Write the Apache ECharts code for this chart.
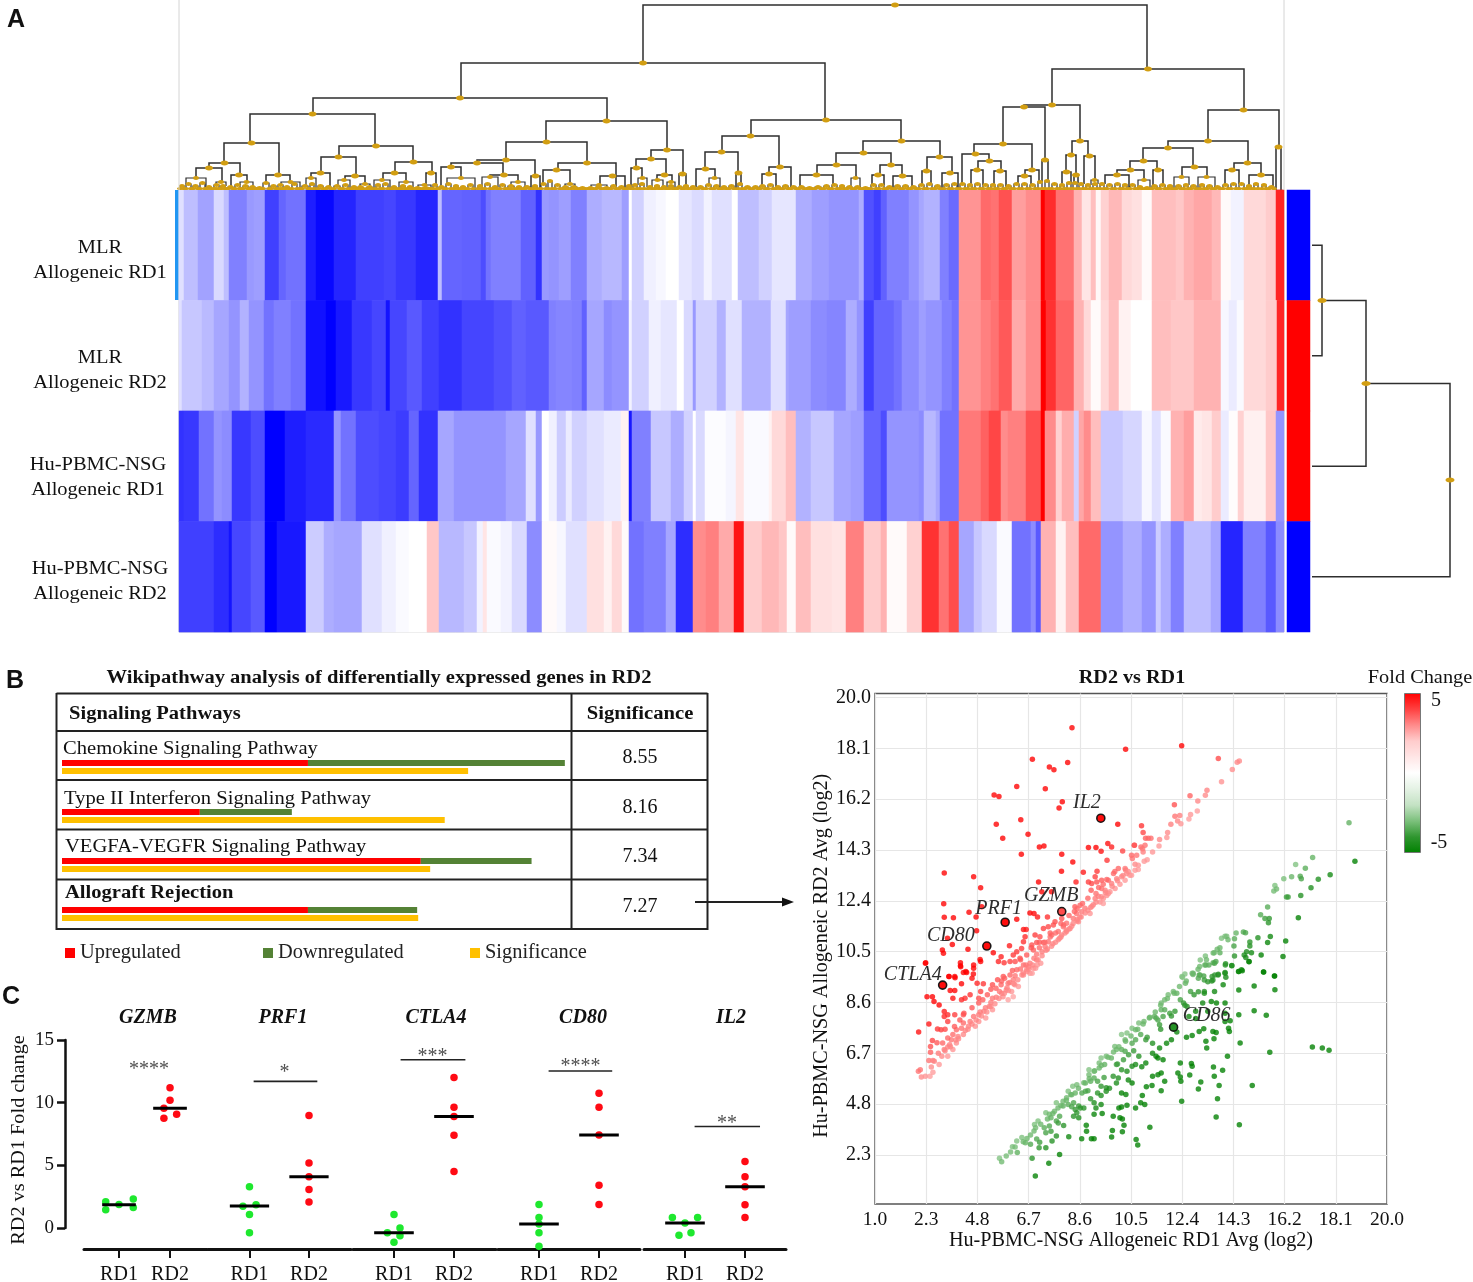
<!DOCTYPE html>
<html><head><meta charset="utf-8">
<style>html,body{margin:0;padding:0;background:#fff}#c{width:1473px;height:1282px}</style>
<script src="https://cdn.jsdelivr.net/npm/echarts@6/dist/echarts.min.js"></script>
</head><body><div id="c"></div>
<script>
// ---------- Panel A: heatmap, run-length by [last gene index, scaled expression]
const rowLabels=['MLR\nAllogeneic RD1','MLR\nAllogeneic RD2','Hu-PBMC-NSG\nAllogeneic RD1','Hu-PBMC-NSG\nAllogeneic RD2'];
const heatRow1=[[5,-.12],[19,-.25],[35,-.36],[45,-.15],[50,-.25],[68,-.5],[75,-.4],[86,-.38],[100,-.75],[107,-.6],[127,-.55],[137,-.88],[155,-.97],[177,-.85],[205,-.75],[217,-.72],[237,-.78],[259,-.85],[263,-.25],[283,-.6],[302,-.62],[307,-.7],[312,-.55],[342,-.5],[357,-.62],[363,-.8],[370,-.4],[380,-.42],[392,-.38],[408,-.5],[423,-.32],[443,-.28],[450,-.38],[453,0],[465,-.18],[477,-.06],[487,-.03],[500,0],[513,-.1],[525,-.14],[533,-.05],[553,-.12],[559,0],[580,-.25],[593,-.18],[617,-.1],[633,-.32],[650,-.38],[680,-.42],[685,-.32],[695,-.68],[702,-.75],[708,-.62],[730,-.5],[740,-.42],[745,-.35],[761,-.3],[770,-.5],[780,-.58],[802,.42],[812,.58],[820,.55],[833,.68],[847,.38],[862,.45],[866,1],[877,.82],[895,.55],[903,.3],[912,.1],[917,.25],[922,.03],[930,.18],[943,.28],[953,.15],[963,.12],[973,.02],[997,.25],[1005,.22],[1015,.3],[1033,.35],[1042,.28],[1052,.02],[1065,-.05],[1087,.15],[1097,.2],[1105,.85]];
const heatRow2=[[3,-.12],[23,-.22],[35,-.27],[50,-.35],[61,-.42],[70,-.3],[85,-.42],[95,-.55],[112,-.5],[127,-.55],[147,-.93],[157,-1],[173,-.9],[193,-.78],[207,-.72],[211,-.92],[228,-.72],[243,-.65],[260,-.75],[283,-.8],[315,-.73],[333,-.68],[347,-.62],[370,-.65],[377,-.5],[393,-.48],[403,-.5],[408,-.62],[425,-.35],[433,-.45],[450,-.42],[453,-.05],[470,-.18],[482,-.06],[498,-.1],[505,0],[514,-.15],[517,-.4],[538,-.18],[547,-.3],[563,-.12],[592,-.3],[607,-.12],[610,-.35],[632,-.38],[648,-.45],[667,-.48],[678,-.32],[685,-.42],[695,-.75],[715,-.6],[723,-.55],[740,-.45],[747,-.38],[763,-.42],[773,-.5],[780,-.55],[802,.42],[812,.5],[820,.55],[833,.65],[847,.33],[862,.45],[867,1],[877,.8],[895,.6],[905,.3],[912,.15],[922,.02],[930,.15],[940,.25],[952,.05],[973,0],[992,.25],[1015,.22],[1042,.3],[1050,-.03],[1058,-.08],[1065,-.02],[1087,.15],[1098,.2],[1105,.85]];
const heatRow3=[[5,-.8],[20,-.78],[35,-.55],[43,-.42],[53,-.45],[72,-.78],[86,-.7],[106,-1],[127,-.88],[155,-.83],[162,-.42],[177,-.55],[200,-.7],[217,-.72],[230,-.76],[240,-.6],[259,-.8],[275,-.35],[327,-.42],[347,-.35],[357,-.12],[363,-.4],[370,0],[378,-.06],[387,-.2],[393,-.08],[408,-.18],[425,-.12],[442,-.08],[450,.05],[453,-.9],[472,-.5],[492,-.22],[505,-.32],[514,-.18],[517,0],[526,-.15],[547,-.01],[557,-.04],[565,.1],[590,-.02],[593,.05],[607,.15],[617,.25],[632,-.3],[655,-.22],[672,-.35],[685,-.38],[702,-.6],[708,-.7],[740,-.42],[745,-.45],[757,-.28],[761,-.35],[780,-.55],[802,.52],[810,.62],[822,.72],[829,.45],[847,.5],[862,.68],[866,1],[877,.45],[883,.18],[895,.32],[900,-.18],[905,.35],[912,.45],[922,.25],[944,-.22],[963,-.16],[973,-.03],[982,-.12],[992,-.02],[1005,.3],[1015,.38],[1023,.08],[1033,.1],[1042,.2],[1050,-.08],[1059,.01],[1065,.18],[1087,.06],[1097,.22],[1105,-.42]];
const heatRow4=[[35,-.75],[50,-.82],[53,-.92],[72,-.72],[86,-.65],[98,-1],[127,-.9],[145,-.2],[155,-.32],[183,-.35],[203,-.12],[217,-.06],[230,-.02],[248,0],[260,.22],[285,-.28],[298,-.22],[304,-.05],[308,.1],[322,-.02],[333,-.05],[348,-.15],[363,-.45],[370,.02],[378,.02],[387,-.03],[408,-.12],[425,.12],[433,.05],[443,.15],[450,.02],[465,-.55],[487,-.5],[497,-.35],[514,-.82],[527,.45],[540,.5],[555,.33],[565,.92],[583,.2],[600,.28],[608,.22],[617,.02],[632,.25],[653,.12],[667,.1],[685,.5],[702,.2],[708,.3],[728,.02],[740,.18],[743,.18],[760,.8],[770,.55],[780,.7],[795,-.35],[803,-.22],[818,-.15],[833,-.02],[852,-.55],[857,-.45],[862,-.65],[877,.3],[887,.05],[900,.25],[922,.58],[944,-.42],[963,-.32],[977,-.42],[982,-.2],[992,-.32],[1005,-.5],[1032,-.25],[1042,-.35],[1064,-.85],[1087,-.5],[1097,-.65],[1105,-.45]];
const rowGroups=[-1,1,1,-1];
// Dendrogram merges: [left leaf position, right leaf position, height]
const dendroMerges=[[464,968,185],[282,646,127],[873,1065,121],[134,428,92],[572,722,70],[845,901,85],[1029,1100,80],[71,196,76],[367,488,69],[543,600,54],[684,761,49],[824,866,83],[893,909,49],[989,1069,49],[1097,1102,43],[45,100,47],[160,234,44],[327,408,48],[472,504,40],[526,559,38],[590,612,23],[657,712,37],[748,773,33],[795,853,46],[863,869,30],[887,897,35],[905,916,34],[964,1014,42],[1055,1082,27],[30,61,27],[17,43,22],[52,68,15],[87,111,15],[142,177,33],[216,253,28],[132,151,17],[166,186,14],[204,227,17],[247,257,17],[298,356,30],[272,324,27],[262,282,23],[311,339,15],[352,361,14],[379,437,27],[364,391,20],[421,446,14],[457,487,31],[500,507,16],[452,463,22],[478,493,15],[517,536,21],[557,562,17],[638,677,25],[701,723,25],[621,654,15],[672,681,12],[693,705,15],[714,733,14],[743,752,19],[763,779,17],[783,810,36],[799,822,29],[792,804,20],[815,827,19],[846,860,20],[839,852,14],[883,892,18],[895,899,15],[912,919,10],[951,978,29],[1003,1028,23],[938,965,20],[974,984,20],[926,950,15],[959,971,10],[995,1010,13],[1019,1036,13],[1046,1060,20],[1070,1094,15],[583,597,16],[7,27,12],[37,47,8],[61,74,8],[84,90,7],[102,121,8],[127,137,12],[159,171,10],[181,191,6],[195,211,10],[220,234,8],[239,252,5],[268,296,12],[303,319,13],[332,346,8],[386,396,6],[412,428,5],[459,468,12],[473,484,10],[488,496,8],[530,541,12]];
const dendroLeaves=[[1,5,4],[7,12,6],[14,19,4],[21,26,7],[28,32,3],[35,40,5],[42,46,4],[49,54,3],[56,61,5],[64,69,4],[71,76,3],[78,83,2],[92,97,4],[99,104,5],[106,110,3],[113,118,6],[123,129,4],[131,135,6],[139,144,4],[147,152,3],[155,161,4],[164,169,5],[173,177,3],[179,184,3],[188,193,3],[197,201,5],[204,209,6],[213,217,3],[222,226,4],[229,233,3],[236,241,2],[244,250,2],[254,258,5],[260,265,3],[267,272,6],[275,279,4],[282,286,3],[289,294,5],[299,303,4],[306,311,6],[314,318,3],[321,326,5],[329,335,4],[338,342,3],[345,351,3],[354,358,4],[362,367,6],[369,373,9],[376,381,5],[384,389,3],[392,398,3],[401,406,2],[409,414,2],[417,422,3],[425,430,2],[432,437,4],[440,445,3],[448,452,4],[454,458,5],[461,465,6],[469,473,3],[476,480,4],[483,487,3],[490,494,4],[498,503,3],[505,509,4],[512,516,3],[519,524,3],[527,532,5],[535,540,4],[543,547,3],[550,555,4],[559,563,6],[566,571,3],[574,579,3],[581,586,4],[589,594,5],[597,601,3],[604,609,4],[612,617,3],[620,625,3],[628,633,2],[636,642,3],[645,650,4],[653,658,5],[661,665,4],[668,673,3],[676,681,3],[684,689,2],[692,697,5],[700,705,5],[708,713,3],[716,721,4],[724,729,4],[732,737,3],[740,745,5],[748,753,6],[756,761,4],[765,770,5],[773,778,6],[781,786,6],[789,793,5],[796,801,6],[804,809,5],[812,816,5],[819,824,5],[827,832,4],[835,840,6],[843,848,6],[851,856,5],[859,863,8],[866,870,9],[873,878,6],[881,885,5],[888,892,7],[894,898,7],[900,904,6],[907,911,5],[914,918,6],[921,925,6],[928,933,5],[936,941,6],[944,948,5],[951,956,5],[959,963,3],[966,970,2],[973,978,4],[981,986,5],[989,993,4],[997,1002,4],[1005,1009,5],[1012,1017,4],[1021,1025,5],[1028,1033,4],[1036,1041,3],[1044,1049,5],[1052,1057,6],[1060,1065,6],[1068,1072,4],[1075,1079,6],[1083,1087,5],[1090,1095,3]];
// Sample dendrogram: [row a, leg height a, row b, leg height b, merge height]
const sampleMerges=[[0,2,1,2,12],[0.5,12,2,2,56],[1.25,56,3,2,140]];

// ---------- Panel B
const pathways=['Chemokine Signaling Pathway','Type II Interferon Signaling Pathway','VEGFA-VEGFR Signaling Pathway','Allograft Rejection'];
const upregulated=[47.3,26.5,69,47.3];
const downregulated=[49.4,17.7,21.3,21];
const significanceBar=[78.1,73.6,70.8,68.5];
const significanceValues=['8.55','8.16','7.34','7.27'];

// ---------- Panel C: [jitter, fold change]
const geneNames=['GZMB','PRF1','CTLA4','CD80','IL2'];
const rd1Points=[
 [[-.26,2.1],[-.26,1.46],[0,1.88],[.28,2.31],[.28,1.65]],
 [[0,3.3],[-.11,1.73],[.11,1.86],[0,1.09],[0,-.37]],
 [[0,1.09],[.1,0],[-.11,-.37],[.1,-.61],[0,-1.14]],
 [[0,1.88],[0,.85],[0,.32],[0,-.37],[0,-1.46]],
 [[-.21,.85],[.21,.85],[0,.4],[.1,-.37],[-.1,-.58]]];
const rd2Points=[
 [[1,11.2],[1,10.2],[.88,9.56],[1.13,9.08],[.88,8.76]],
 [[1,8.97],[1,5.18],[1,4.09],[1,3.08],[1,2.07]],
 [[1,12],[1,9.64],[1,8.89],[1,7.41],[1,4.51]],
 [[1,10.75],[1,9.64],[1,7.43],[1,3.42],[1,1.88]],
 [[1,5.3],[1,4.09],[1,3.29],[1,1.86],[1,.85]]];
const rd1Median=[1.86,1.75,-.37,.32,.4];
const rd2Median=[9.56,4.09,8.89,7.43,3.29];
const sigBars=[null,[.07,1.14,11.7],[.11,1.19,13.43],[.16,1.22,12.53],[.16,1.25,8.1]];
const sigStars=[['****',.59,12.6],['*',.59,12.35],['***',.64,13.7],['****',.69,12.85],['**',.7,8.35]];
const cTicks=[0,1];
const cTickLabels=['RD1','RD2'];

// ---------- Panel D scatter: [RD1 avg, RD2 avg]
const axisTicks=[1,2.9,4.8,6.7,8.6,10.5,12.4,14.3,16.2,18.1,20];
const axisTickLabels=['1.0','2.3','4.8','6.7','8.6','10.5','12.4','14.3','16.2','18.1','20.0'];
const upGenes=[[8.31,18.77],[10.3,17.97],[6.84,17.59],[8.15,17.47],[7.47,17.3],[7.64,17.2],[6.26,16.57],[7.32,16.49],[5.42,16.26],[5.6,16.2],[7.95,16],[7.83,15.77],[6.41,15.33],[5.5,15.16],[10.01,15.16],[6.68,14.79],[5.74,14.64],[7.1,14.31],[7.27,14.35],[8.92,14.29],[9.2,14.29],[9.64,14.44],[9.78,14.31],[9.39,14.15],[10.19,14.16],[10.62,14.38],[6.43,14.04],[7.93,14.04],[9.61,13.82],[8.34,13.75],[3.57,13.34],[7.92,13.41],[8.73,13.37],[9.24,13.41],[4.66,13.2],[7.07,13],[8.46,13],[4.92,12.79],[7.19,12.64],[7.55,12.64],[3.55,12.19],[3.91,11.67],[3.57,11.69],[4.49,11.87],[4.75,11.7],[4.96,12.08],[6.26,11.61],[6.75,11.85],[6.9,11.83],[7.03,11.7],[7.4,11.7],[4.77,11.18],[3.69,10.9],[3.87,10.67],[4.45,10.49],[3.5,10.46],[3.54,10.34],[5.99,10.62],[2.88,9.99],[4.17,9.99],[4.18,9.84],[4.66,9.9],[4.9,10.11],[4.37,9.66],[4.65,9.57],[3.75,9.47],[3.97,9.43],[5.39,10.36],[5.68,10.21],[5.58,10.03],[5.79,9.99],
[12.38,18.1],[13.74,17.62],[14.52,17.53],[14.44,17.48],[14.26,17.21],[13.86,16.75],[13.32,16.43],[13.26,16.25],[12.69,16.23],[12.98,16.03],[12.11,15.89],[12.96,15.66],[12.71,15.53],[12.31,15.49],[12.13,15.46],[12.65,15.36],[12.23,15.28],[12.35,15.18],[11.98,15.16],[10.89,15.11],[10.95,14.85],[11.86,14.85],[11.83,14.67],[11.04,14.64],[11.14,14.64],[11.24,14.64],[11.56,14.59],[11.54,14.35],[10.63,14.38],[10.87,14.31],[11.02,14.38],[10.93,14.25],[10.95,14.13],[11.3,14.13],[10.71,14],[10.52,14],[10.55,13.88],[11.1,13.84],[10.99,13.78],[10.65,13.67],[10.77,13.63],[10.77,13.47],[10.65,13.44],[10.52,13.26],
[9.35,12.26],[9.47,12.39],[9.6,12.5],[9.72,12.64],[9.91,12.76],[10.09,12.92],[10.28,13.07],[10.46,13.26],[10.3,13.45],
[8.42,12.08],[8.61,12.14],[8.79,12.02],[8.98,11.83],[8.48,11.83],[8.67,11.89],[8.36,11.64],[8.55,11.52],[8.11,11.46],[8.24,11.27],[7.99,11.33],[7.8,11.15],[7.62,11.4],[7.43,11.33],[7.25,11.27],[7.56,11.02],[7.93,11.02],[8.11,11.15],[7.68,11.52],[7.93,11.64],[6.51,11.23],[6.61,11.23],[6.57,10.96],[6.51,10.77],[6.94,11.02],[7.12,10.96],[7,10.74],[7.25,10.74],[7.43,10.77],[6.82,10.65],[7.31,10.59],[6.26,10.4],[6.44,10.52],[6.13,10.28],[6.01,10.03],[6.2,10.03],[6.38,10.15],[6.63,10.28],[6.88,10.46],[6.51,9.9],[6.75,9.97],[7,10.09],[6.26,9.72],[6.63,9.72],[6.88,9.78],[6.51,9.53],[6.75,9.59],[6.01,9.53],[5.76,9.47],
[9.17,13.2],[8.92,13],[9.04,12.95],[9.23,13],[9.41,13.07],[9.47,12.92],[9.66,13.07],[9.85,13.32],[10.03,13.51],[10.28,13.51],[9.02,12.7],[9.2,12.57],[9.41,12.76],[9.54,12.7],[9.78,12.95],[9.97,13.13],[10.15,13.2],[10.34,13.32],[9.17,12.39],[9.29,12.47],[9.47,12.2],[9.66,12.57],
[2.62,7.4],[3,7.7],[3.32,7.51],[3.45,7.48],[3.13,7.08],[3.06,6.86],[3.06,6.64],[3,6.33],[3.15,6.33],[3.09,6.09],[3.38,6.18],[2.68,5.99],[2.61,5.93],[2.72,5.72],[2.87,5.74],[3.04,5.74],[3.15,5.89],[3.48,6.49],[3.7,6.49],[3.57,6.74],[3.7,6.84],
[5.36,9.16],[5.55,9.35],[5.81,9.41],[6.13,9.35],[6.45,9.53],[5.49,9.03],[5.68,9.16],[5.94,9.22],[6.19,9.16],[5.62,8.91],[5.87,8.97],[6.07,8.91],[6.32,9.1],[5.75,8.72],[5.94,8.6],[6.13,8.72],[5.36,8.66],[5.17,8.79],[4.85,8.66],[4.92,8.91],[4.53,8.79],[4.85,8.48],[5.24,8.35],[5.36,8.23],[5.04,8.17],[4.85,8.04],[5.11,7.92],[4.66,7.98],[4.85,7.79],[4.53,7.79],[4.72,7.61],[4.47,7.61],[4.28,7.73],[4.15,7.85],[4.21,7.54],[4.02,7.48],[3.89,7.3],[4.08,7.23],[3.83,7.11],[3.7,7.17],[4.28,7.3],[4.02,6.99],[3.77,6.92],[3.89,6.74],[3.51,6.99],
[2.87,9.97],[4.17,9.87],[4.66,9.78],[4.92,10.03],[4.28,9.62],[4.4,9.62],[3.96,9.47],[3.74,9.47],[4.6,9.41],[4.79,9.22],[5.02,9.2],[4.21,9.2],[3.96,8.95],[3.79,8.95],[4.34,8.66],[4.21,8.6],[3.89,8.66],[2.93,8.72],[3.13,8.72],[3.19,8.54],[3.38,8.41],[3.57,8.16],[3.57,7.98],[3.7,8.04],[3.7,7.79],[3.96,8.04],[4.28,8.04],
[6.7,9.84],[6.96,9.78],[7.15,9.97],[6.83,9.59],[6.64,9.66],[7.02,9.9],[7,10.3],[7.2,10.4],[7.4,10.5],[7.6,10.7],[7.8,10.85],[7.9,10.95],[8.1,11.2],[8.3,11.35],[8.5,11.6],[8.6,11.7],[8.8,11.85],[9,12.05],[9.1,12.15],[7.5,10.95],[7.7,11.1],[8,11.4],[8.4,11.9],[8.7,12.2],[6.6,9.9],[6.9,10.15],[7.1,10.55],[7.3,10.75],[6.4,9.75],[6.2,9.5],[6,9.25],[5.9,9.05],[5.7,8.85],[5.5,8.7],[5.3,8.5],[5.1,8.3],[4.9,8.15],
[3.2,6.3],[3.35,6.6],[3.6,6.7],[3.8,6.85],[4,7.1],[4.1,7.15],[4.35,7.45],[4.45,7.5],[4.6,7.7],[4.75,7.85],[4.95,8],[5.15,8.15],[5.3,8.35],[5.45,8.45],[5.6,8.65],[5.8,8.85],[5.95,8.95],[6.15,9.2],[6.3,9.35],[6.5,9.6],[6.7,9.75],[6.85,9.9],[7.05,10.1],[7.2,10.25],[7.35,10.45],[7.55,10.6],[7.7,10.75],[7.85,10.9],[8.05,11.1],[8.2,11.25],[8.35,11.45],[8.5,11.55],[8.65,11.7],[8.9,11.95],[9.05,12.1],[9.2,12.25],[9.4,12.45],[9.55,12.6],[9.8,12.85],[10,13.05],[10.2,13.25],[10.4,13.4],[3.3,7],[3.6,7.5],[3.95,7.6],[4.3,8.1],[4.6,8.3],[5,8.6],[5.3,9],[5.7,9.3],[6.1,9.7],[6.4,10.1],[6.8,10.55],[7.1,10.75],[7.5,11.1],[7.9,11.45],[8.2,11.75],[8.5,12],[8.9,12.4],[9.3,12.8],[9.6,13.1],[9.9,13.4]];
const downGenes=[[6.95,2.02],[7.45,2.49],[7.85,2.82],[6.83,2.68],[14.52,3.93],[13.66,4.22],[13.71,4.9],[12.38,4.81],[15,5.4],[13,5.27],[13.77,5.4],[11.62,5.2],[11.2,3.84],[10.75,3.17],[10.69,3.38],[10.18,3.67],[10.24,3.91],[9.81,3.72],[9.78,3.47],[9.03,3.41],[9.13,3.41],[8.67,3.41],[8.19,3.48],[8.84,3.91],[8.85,3.69],[17.23,6.84],[17.6,6.8],[17.85,6.72],[15.65,6.64],[14.55,6.99],[14.08,6.49],[13.56,6.09],[13.9,5.97],[13.59,5.74],[13.09,5.53],[12.68,5.79],[12.33,5.72],[12.35,5.56],[12.24,5.87],[12.74,6.22],[12.77,6.12],[12.33,6.24],[15.52,8.02],[15.07,8.19],[14.5,8.04],[15.84,8.98],[15.83,9.49],[15.42,9.64],[15.07,9.12],[14.5,8.97],[14.5,9.66],[14.63,9.69],[14.88,10.03],[14.12,7.54],[14.15,7.42],[13.54,7.42],[13.66,7.38],[13.58,7.15],[13.28,7.05],[13.31,6.8],[13.2,7.52],[13.03,7.42],[12.77,7.27],[12.56,7.2],
[18.59,15.22],[18.81,13.78],[17.24,13.92],[17.89,13.28],[17.45,13.11],[17.18,12.79],[16.61,13.66],[16.97,13.52],[16.78,13.22],[16.82,13.13],[16.46,13.2],[16.17,13.13],[15.84,12.87],[15.9,12.74],[15.8,12.67],[16.33,12.44],[16.27,12.44],[16.8,12.5],[15.57,12.07],[15.31,11.78],[15.47,11.64],[15.63,11.64],[15.6,11.48],[16.71,11.67],[14.67,11.14],[14.75,11.11],[13.86,10.9],[13.99,10.98],[14.05,10.98],[14.34,10.88],[14.32,10.61],[14.91,10.76],[14.91,10.61],[15.21,10.92],[15.67,10.97],[15.57,10.74],[16.24,10.8],[15.33,10.28],[16.14,10.22],[15.82,9.49],[15.42,9.64],[14.79,10.4],[14.97,10.36],[14.7,10.28],[14.76,10.18],[14.88,10.02],[14.34,10.24],[14.01,9.95],[14.24,9.88],[14.49,9.66],[14.6,9.72],[13.59,10.36],[13.7,10.49],[13.8,10.36],[13.26,10.24],[13.07,10.09],[13.24,9.9],[13.39,9.9],[13.55,9.99],[13.65,10.03],[12.99,9.74],[13.74,9.56],[13.61,9.53],[13.51,9.47],[13.99,9.62],[14.02,9.44],[12.5,9.57],[12.41,9.44],[12.81,9.59],[13.06,9.53],[13.2,9.49],[13,9.41],
[5.62,2.68],[5.7,2.55],[5.87,2.76],[6.03,2.91],[6.28,2.89],[6.1,3.11],[6.26,3.32],[6.45,3.45],[6.64,3.42],[6.77,3.55],[6.58,3.26],[6.77,3.2],[7.09,3.07],[7.11,3.28],[7.34,3.07],[7.57,3.32],[7.73,3.51],[6.92,3.94],[7.05,4.07],[6.96,3.82],[7.28,3.82],[7.47,3.88],[7.34,3.63],[7.53,3.69],[7.34,4.38],[7.47,4.32],[7.66,4.44],[7.79,4.56],[7.73,4.75],[7.53,4.19],[7.73,4.07],[7.85,4.25],[7.98,4.81],[8.11,4.94],[8.26,5.06],[8.43,5.12],[7.98,4.63],[8.17,4.69],[8.37,4.75],[8.56,4.63],[8.34,5.37],[8.49,5.43],[8.17,5.18],[8.68,5.12],[8.81,5.18],[8.43,4.5],[8.62,4.56],[8.75,4.56],[8.37,4.25],[8.56,4.19],[8.49,4.38],[9.13,4.75],[9.39,4.69],[9.2,4.56],[9.13,4.32],[9.43,4.35],
[8.81,5.49],[9,5.56],[9.13,5.68],[9.26,5.56],[8.94,5.8],[9.13,5.93],[8.94,5.99],[9.32,6.24],[9.39,6.43],[9.58,6.49],[9.77,6.43],[9.32,6.05],[9.52,6.18],[9.39,5.37],[9.58,5.31],[9.26,5.12],[9.39,5.02],[9.58,5.18],[9.96,5.49],[10.03,5.68],[9.84,5.74],[9.96,6.18],[9.9,6.86],[9.96,6.74],[10.28,6.68],[10.41,6.55],[10.22,6.36],[10.54,6.12],[10.15,5.99],[10.35,5.93],[10.54,5.49],[10.15,5.12],[10.31,5.06],[10.05,4.56],[10.15,4.59],[10.35,4.66],[10.67,4.56],[10.86,4.75],[11.01,4.69],[10.92,5.02],[11.07,5.35],[11.28,5.4],[11.3,5.74],[11.5,5.8],[11.62,5.87],[11.75,5.56],[9.84,4.25],[10.09,4.19],[10.18,4.15],
[10.15,7.3],[10.35,7.36],[10.54,7.54],[10.79,7.73],[10.28,7.11],[10.54,6.98],[10.15,6.74],[10.67,7.11],[10.98,7.79],[11.18,7.92],[11.37,7.98],[11.5,7.85],[11.69,7.98],[10.67,7.48],[10.86,7.3],[11.05,7.11],[11.3,6.98],[11.56,6.8],[11.82,6.98],[12,7.11],[11.43,6.49],[11.69,6.36],[10.79,6.49],[11.05,6.24],[11.5,6.43],[10.67,6.18],
[11.62,8.48],[11.75,8.6],[11.88,8.79],[12.07,8.91],[12.2,8.85],[12.33,8.6],[12.45,8.48],[11.75,8.23],[11.94,8.1],[12.13,8.17],[11.62,8.23],[11.43,7.92],[11.56,7.67],[12.39,9.47],[12.52,9.22],[12.77,9.59],[13.03,9.53],[13.22,9.34],[13.35,9.28],[13.54,9.34],[13.73,9.53],[13.99,9.59],[12.71,8.91],[12.84,8.79],[13.22,8.91],[13.6,8.91],[13.67,8.48],[13.48,8.54],[13.99,8.48],[13.16,8.48],[12.58,8.35],[12.9,8.17],[13.35,8.17],[13.99,8.1],[13.28,9.9],[13.6,9.97],[14.24,9.87],[13.22,8.85],[13.92,9.16],[12.65,7.98],[14.18,7.82],[13.99,7.79],
[6.2,3.1],[6.5,3.3],[6.9,3.7],[7.15,3.95],[7.4,4.15],[7.6,4.35],[7.9,4.65],[8.1,4.85],[8.3,5.05],[8.55,5.3],[8.75,5.5],[8.95,5.65],[9.15,5.95],[9.4,6.15],[9.65,6.45],[9.85,6.65],[10.05,6.85],[10.3,7.05],[10.5,7.25],[10.75,7.5],[10.95,7.7],[11.2,7.95],[11.4,8.15],[11.6,8.4],[11.85,8.65],[12.1,8.85],[12.3,9.1],[12.55,9.3],[12.8,9.55],[13.05,9.85],[13.3,10.1],[13.55,10.35],[13.8,10.55],[14.1,10.85],[14.4,11.1],[7,3.4],[7.8,4],[8.3,4.6],[8.9,5.2],[9.5,5.7],[10,6.2],[10.6,6.7],[11.1,7.2],[11.6,7.5],[12,8],[12.5,8.4],[13,8.9],[13.5,9.3],[14,9.9],[8,3.9],[9,4.9],[9.7,5.3],[10.4,5.6],[10.9,6.1],[11.3,6.6],[12.2,7.4],[12.9,7.9]];
const labelledNames=['IL2','GZMB','PRF1','CD80','CTLA4','CD86'];
const labelledPoints=[[9.38,15.39],[7.93,11.9],[5.83,11.5],[5.15,10.61],[3.51,9.15],[12.08,7.58]];
const labelledOffsets=[[-23,-21],[-33,-21],[-25,-19],[-55,-16],[-54,-16],[14,-17]];
const fcColors=['#008000','#2f962f','#7cc07c','#c4e2c4','#e4f2e4','#ffffff','#ffe6e6','#ffcccc','#ff8a8a','#ff4040','#ff0000'];

// ---------- Build
const SERIF='"Liberation Serif"';
const rd2AxisShift=0.1; // the RD2 gridlines sit slightly off the frame
const foldChange=p=>[p[0],p[1]+rd2AxisShift,Math.max(-5,Math.min(5,p[1]-p[0]))];
const heatData=[];
[heatRow1,heatRow2,heatRow3,heatRow4].forEach((runs,r)=>{let prev=0;runs.forEach(([end,v])=>{for(let c=prev;c<end;c++)heatData.push([c,r,v]);prev=end;});});
const geneCols=Array.from({length:1105},(_,i)=>i);
const allMerges=dendroMerges.concat(dendroLeaves);
const legBase=(x,h)=>{let b=0;allMerges.forEach(m=>{if(Math.abs((m[0]+m[1])/2-x)<=3&&m[2]<h&&m[2]>b)b=m[2];});return b;};
const dendroData=allMerges.map(m=>[m[0],m[1],m[2],legBase(m[0],m[2]),legBase(m[1],m[2])]);
const gold='#d29e12';

const grids=[],xAxes=[],yAxes=[],series=[];
function addGrid(g,x,y){grids.push(Object.assign({outerBoundsMode:'none'},g));const i=grids.length-1;xAxes.push(Object.assign({gridIndex:i},x));yAxes.push(Object.assign({gridIndex:i},y));return i;}
const hidden={show:false};

// dendrogram
let gi=addGrid({left:179,top:0,width:1105,height:190},Object.assign({type:'value',min:0,max:1105},hidden),Object.assign({type:'value',min:0,max:190},hidden));
series.push({type:'custom',xAxisIndex:gi,yAxisIndex:gi,data:dendroData,encode:{x:[0,1],y:2},clip:false,progressive:0,silent:true,
 renderItem:(p,api)=>{const x1=api.value(0),x2=api.value(1),h=api.value(2),b1=api.value(3),b2=api.value(4);
  const pts=[api.coord([x1,b1]),api.coord([x1,h]),api.coord([x2,h]),api.coord([x2,b2])];
  const n=api.coord([(x1+x2)/2,h]);const small=h<14;
  const children=[
   {type:'polyline',shape:{points:pts},style:{stroke:'#2e2e2e',lineWidth:small?1.2:1.5,fill:null}},
   {type:'ellipse',shape:{cx:n[0],cy:n[1],rx:small?3:4,ry:small?2:2.5},style:{fill:gold},z2:5}];
  if(h<=9){[x1,x2].forEach(x=>{const q=api.coord([x,1.5]);children.push({type:'ellipse',shape:{cx:q[0],cy:q[1],rx:3,ry:1.6},style:{fill:gold},z2:5});});}
  return {type:'group',children};}});
// heatmap
gi=addGrid({left:179,top:190,width:1105,height:442,show:true,borderColor:'#d0d0d0',borderWidth:1},
 {type:'category',data:geneCols,show:false},
 {type:'category',data:rowLabels,inverse:true,show:false});
const heatIdx=series.length;
series.push({type:'heatmap',xAxisIndex:gi,yAxisIndex:gi,data:heatData,progressive:0,silent:true});
// row annotation
gi=addGrid({left:1287,top:190,width:23,height:442},{type:'category',data:['group'],show:false},{type:'category',data:[0,1,2,3],inverse:true,show:false});
const annoIdx=series.length;
series.push({type:'heatmap',xAxisIndex:gi,yAxisIndex:gi,data:rowGroups.map((v,i)=>[0,i,v]),silent:true});
// sample dendrogram
gi=addGrid({left:1310,top:190,width:142,height:442},Object.assign({type:'value',min:0,max:142},hidden),Object.assign({type:'value',min:-.5,max:3.5,inverse:true},hidden));
series.push({type:'custom',xAxisIndex:gi,yAxisIndex:gi,data:sampleMerges,encode:{x:[1,3,4],y:[0,2]},clip:false,silent:true,
 renderItem:(p,api)=>{const a=api.value(0),ha=api.value(1),b=api.value(2),hb=api.value(3),h=api.value(4);
  const pts=[api.coord([ha,a]),api.coord([h,a]),api.coord([h,b]),api.coord([hb,b])];const n=api.coord([h,(a+b)/2]);
  return {type:'group',children:[{type:'polyline',shape:{points:pts},style:{stroke:'#2e2e2e',lineWidth:1.5,fill:null}},
   {type:'ellipse',shape:{cx:n[0],cy:n[1],rx:4.5,ry:2.5},style:{fill:gold},z2:5}]};}});
// pathway bars
gi=addGrid({left:62,top:742.5,width:520,height:196},Object.assign({type:'value',min:0,max:100},hidden),Object.assign({type:'category',data:pathways,inverse:true},hidden));
const barCommon={type:'bar',xAxisIndex:gi,yAxisIndex:gi,barWidth:6,barGap:'30%',silent:true};
series.push(Object.assign({name:'Upregulated',stack:'reg',data:upregulated,itemStyle:{color:'#ff0000'}},barCommon));
series.push(Object.assign({name:'Downregulated',stack:'reg',data:downregulated,itemStyle:{color:'#548235'}},barCommon));
series.push(Object.assign({name:'Significance',data:significanceBar,itemStyle:{color:'#ffc000'}},barCommon));
// panel C y axis
addGrid({left:65,top:1040,width:1,height:188},Object.assign({type:'value',min:0,max:1},hidden),
 {type:'value',min:0,max:15,interval:5,axisLine:{show:true,lineStyle:{color:'#111',width:2.5}},axisTick:{show:true,length:8,lineStyle:{color:'#111',width:2.5}},splitLine:{show:false},
  axisLabel:{fontFamily:SERIF,fontSize:19,color:'#111',margin:11}});
// panel C columns
const cLayout=[[84,123,-.686,1.725],[208,143,-.697,1.706],[353,143,-.683,1.7],[498,142,-.683,1.683],[644,142,-.683,1.683]];
geneNames.forEach((g,i)=>{
 const [l,w,mn,mx]=cLayout[i];
 const k=addGrid({left:l,top:1040,width:w,height:209},
  {type:'value',min:mn,max:mx,splitLine:{show:false},axisLine:{show:true,onZero:false,lineStyle:{color:'#111',width:3}},
   axisTick:{show:true,length:9,customValues:cTicks,lineStyle:{color:'#111',width:2}},
   axisLabel:{customValues:cTicks,formatter:v=>cTickLabels[v],fontFamily:SERIF,fontSize:20,color:'#111',margin:16,showMinLabel:true,showMaxLabel:true}},
  {type:'value',min:-1.67,max:15,show:false});
 const base={xAxisIndex:k,yAxisIndex:k,silent:true,clip:false};
 const med=(c,m)=>Object.assign({type:'line',symbol:'none',data:[[c-.33,m],[c+.33,m]],lineStyle:{color:'#000',width:3},z:4},base);
 series.push(Object.assign({type:'scatter',data:rd1Points[i],symbolSize:7.5,itemStyle:{color:'#1ee82e',opacity:1}},base));
 series.push(Object.assign({type:'scatter',data:rd2Points[i],symbolSize:7.5,itemStyle:{color:'#ff0a14',opacity:1}},base));
 series.push(med(0,rd1Median[i]));series.push(med(1,rd2Median[i]));
 if(sigBars[i])series.push(Object.assign({type:'line',symbol:'none',data:[[sigBars[i][0],sigBars[i][2]],[sigBars[i][1],sigBars[i][2]]],lineStyle:{color:'#222',width:1.6}},base));
 const s=sigStars[i];
 series.push(Object.assign({type:'scatter',symbolSize:0,data:[[s[1],s[2]]],label:{show:true,position:'inside',formatter:()=>s[0],fontFamily:SERIF,fontSize:20,color:'#222'}},base));
});
// scatter panel
const scatterAxis=(ticks)=>({type:'value',splitLine:{show:true,lineStyle:{color:'#e6e6e6',width:1.2}},
  axisLine:{show:false},axisTick:{show:false,customValues:ticks},
  axisLabel:{customValues:ticks,formatter:v=>axisTickLabels[axisTicks.indexOf(v)],fontFamily:SERIF,color:'#111',showMinLabel:true,showMaxLabel:true},
  nameLocation:'middle',nameTextStyle:{fontFamily:SERIF,color:'#111',fontSize:20.2}});
const xa=scatterAxis(axisTicks);xa.min=1;xa.max=20;xa.axisLabel.fontSize=19.5;xa.axisLabel.margin=6;xa.name='Hu-PBMC-NSG Allogeneic RD1 Avg (log2)';xa.nameGap=25;
const ya=scatterAxis(axisTicks.slice(1));ya.min=1.069;ya.max=20.15;ya.axisLabel.fontSize=20;ya.axisLabel.margin=4;ya.name='Hu-PBMC-NSG Allogeneic RD2 Avg (log2)';ya.nameGap=39;ya.nameTextStyle.padding=[0,14,0,0];
gi=addGrid({left:875,top:693.5,width:512,height:510.5,show:true,borderColor:'#555',borderWidth:1.5},xa,ya);
const scatterIdx=[series.length,series.length+1,series.length+2];
const sc={type:'scatter',xAxisIndex:gi,yAxisIndex:gi,symbolSize:5.5,silent:true,itemStyle:{opacity:.78}};
series.push(Object.assign({data:upGenes.map(foldChange),encode:{x:0,y:1}},sc));
series.push(Object.assign({data:downGenes.map(foldChange),encode:{x:0,y:1}},sc));
series.push(Object.assign({},sc,{symbolSize:8,z:5,itemStyle:{opacity:.95,borderColor:'#111',borderWidth:1.6},encode:{x:0,y:1},
 data:labelledPoints.map((p,i)=>({value:foldChange(p),label:{show:true,formatter:labelledNames[i],position:labelledOffsets[i],fontFamily:SERIF,fontStyle:'italic',fontSize:20,color:'#222'}}))}));

// text and table
const T=(text,x,y,o={})=>({type:'text',x,y,rotation:o.rot||0,scaleX:o.sx||1,silent:true,z:20,style:{text,fill:o.fill||'#111',fontFamily:o.family||SERIF,fontSize:o.size||18,fontWeight:o.bold?'bold':'normal',fontStyle:o.italic?'italic':'normal',textAlign:o.align||'left',align:o.align||'left',textVerticalAlign:'middle',verticalAlign:'middle'}});
const L=(x1,y1,x2,y2,w=2,c='#222')=>({type:'line',silent:true,z:15,shape:{x1,y1,x2,y2},style:{stroke:c,lineWidth:w}});
const SANS='"Liberation Sans"';
const graphics=[
 L(179,0,179,190,1,'#d4d4d4'),L(1284,0,1284,190,1,'#d4d4d4'),
 {type:'rect',silent:true,shape:{x:175,y:190,width:3.5,height:110},style:{fill:'#2196f3'}},
 T('A',7,20,{family:SANS,bold:true,size:25}),T('B',6,681,{family:SANS,bold:true,size:25}),T('C',2,997,{family:SANS,bold:true,size:25}),
 T('Wikipathway analysis of differentially expressed genes in RD2',379,678,{bold:true,size:18.5,align:'center',sx:1.11}),
 L(56.5,693.5,707.5,693.5),L(56.5,731,707.5,731),L(56.5,780,707.5,780),L(56.5,829.5,707.5,829.5),L(56.5,879.5,707.5,879.5),L(56.5,929,707.5,929),L(56.5,693,56.5,930),L(707.5,693,707.5,930),L(571.5,693,571.5,930),
 T('Signaling Pathways',69,714,{bold:true,size:18.5,sx:1.11}),T('Significance',640,714,{bold:true,size:18.5,align:'center',sx:1.115}),
 L(695,902,784,902,2),
 {type:'polygon',silent:true,z:15,shape:{points:[[782,897.5],[794,902],[782,906.5]]},style:{fill:'#111'}},
 T('RD2 vs RD1',1132,678,{bold:true,size:18.5,align:'center',sx:1.09}),
 T('Fold Change',1420,678,{size:19,align:'center',sx:1.07}),T('5',1436,701,{size:20,align:'center'}),T('-5',1439,843,{size:20,align:'center'}),
 {type:'rect',silent:true,z:20,shape:{x:1404.5,y:693.5,width:16,height:159},style:{fill:null,stroke:'#777',lineWidth:1}},
 T('RD2 vs RD1 Fold change',19,1140,{size:19.5,rot:Math.PI/2,align:'center',sx:1.04})
];
const rowLineY=[[248,273],[358,383],[465,490],[569,594]],rowLineX=[100,100,98,100];
rowLabels.forEach((s,i)=>s.split('\n').forEach((line,j)=>graphics.push(T(line,rowLineX[i],rowLineY[i][j],{size:19.5,sx:1.05,align:'center'}))));
const pathwayY=[749,799,847,893],pathwayX=[63,64,65,65];
pathways.forEach((p,i)=>graphics.push(T(p,pathwayX[i],pathwayY[i],{size:19,bold:i===3,sx:1.083})));
const sigY=[758,808,857,907];
significanceValues.forEach((v,i)=>graphics.push(T(v,640,sigY[i],{size:20,align:'center'})));
const geneX=[148,283,436,583,731];
geneNames.forEach((g,i)=>graphics.push(T(g,geneX[i],1018,{size:20,bold:true,italic:true,align:'center'})));

const legendBase={icon:'rect',itemWidth:10,itemHeight:10,top:943,padding:0,selectedMode:false,textStyle:{fontFamily:SERIF,fontSize:20.4,color:'#222'}};
const chart=echarts.init(document.getElementById('c'),null,{renderer:'canvas',width:1473,height:1282});
chart.setOption({animation:false,backgroundColor:'#fff',grid:grids,xAxis:xAxes,yAxis:yAxes,series,
 legend:[Object.assign({},legendBase,{left:65,data:['Upregulated']}),Object.assign({},legendBase,{left:263,data:['Downregulated']}),Object.assign({},legendBase,{left:470,data:['Significance']})],
 visualMap:[
  {type:'continuous',show:false,min:-1,max:1,seriesIndex:[heatIdx,annoIdx],dimension:2,inRange:{color:['#0000ff','#ffffff','#ff0000']}},
  {type:'continuous',show:true,min:-5,max:5,seriesIndex:scatterIdx,dimension:2,padding:0,left:1404,top:693,itemWidth:17,itemHeight:160,calculable:false,hoverLink:false,text:null,inRange:{color:fcColors}}
 ],
 graphic:{elements:graphics}});
</script></body></html>
